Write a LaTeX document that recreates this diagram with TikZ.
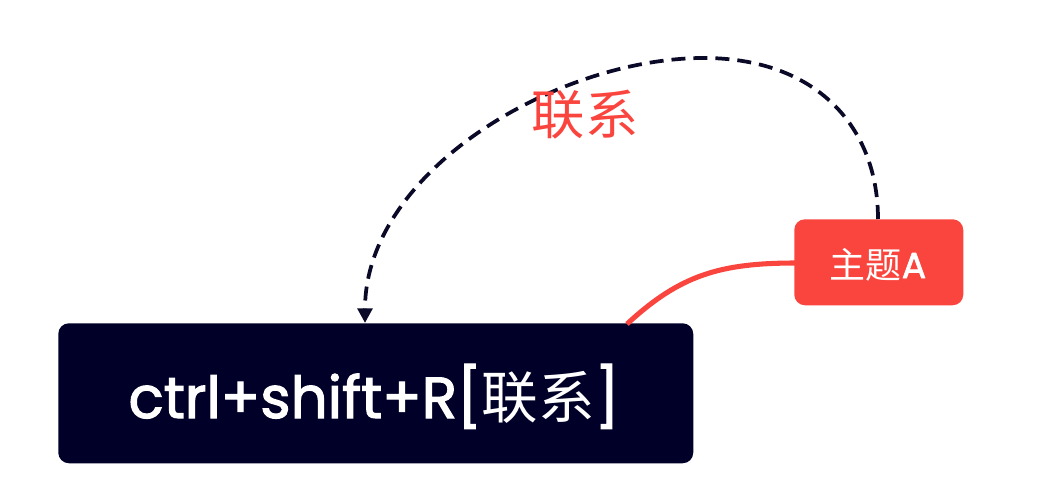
\documentclass[tikz,border=0pt]{standalone}
\usepackage{fontspec}
\setmainfont{Poppins}
\newfontfamily\latmed{Poppins}[FakeBold=2]
\newfontfamily\cjk{Noto Sans CJK SC}
\usetikzlibrary{arrows.meta}
\definecolor{navy}{RGB}{0,0,40}
\definecolor{topicred}{RGB}{250,69,62}
\definecolor{linkline}{RGB}{10,10,40}
\tikzset{
  mainbox/.style={fill=navy, rounded corners=8pt, draw=none},
  topicbox/.style={fill=topicred, rounded corners=8pt, draw=none},
  linkarrow/.style={draw=linkline, line width=2.8pt, dash pattern=on 10.5pt off 6pt,
    -{Triangle[length=11pt,width=11pt]}},
  branch/.style={draw=topicred, line width=3.8pt},
}
\begin{document}
\begin{tikzpicture}[x=0.75pt,y=-0.75pt]
\useasboundingbox (0,0) rectangle (1056,496);
% boxes
\node[mainbox, minimum width=476.25pt, minimum height=105pt, anchor=north west, inner sep=0pt] (main) at (58,323) {};
\node[text=white, font=\latmed\fontsize{43.5}{46}\selectfont, inner sep=0pt, anchor=base] (maintext) at (374,418) {ctrl+shift+R[{\cjk\fontsize{42.5}{46}\selectfont 联系}]};
\node[topicbox, minimum width=126.75pt, minimum height=64.5pt, anchor=north west, inner sep=0pt] (topic) at (794,219) {};
\node[text=white, font=\latmed\fontsize{27}{30}\selectfont, inner sep=0pt, anchor=base] (topictext) at (878,278) {{\cjk 主题}A};
% coordinates
\coordinate (bstart) at (627,324);
\coordinate (bend) at (796,263);
\coordinate (lstart) at (878,219);
\coordinate (ltop) at (708,58);
\coordinate (lend) at (365,323);
% branch
\draw[branch] (bstart) .. controls (680,275) and (720,263) .. (bend);
% relationship
\draw[linkarrow] (lstart) .. controls (878,130) and (820,60) .. (ltop)
  .. controls (560,56) and (365,170) .. (lend);
\node[text=topicred, font=\cjk\fontsize{40}{46}\selectfont, inner sep=0pt] (label) at (585,115) {联系};
\end{tikzpicture}
\end{document}
